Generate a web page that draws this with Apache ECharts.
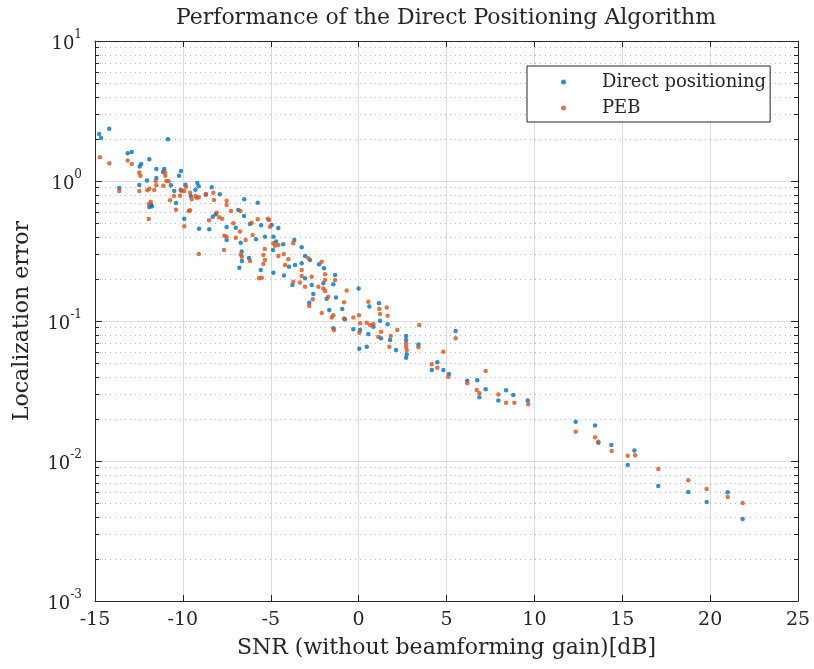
<!DOCTYPE html>
<html>
<head>
<meta charset="utf-8">
<title>Performance of the Direct Positioning Algorithm</title>
<script src="https://cdn.jsdelivr.net/npm/echarts@6/dist/echarts.min.js"></script>
<style>
  html, body { margin: 0; padding: 0; background: #ffffff; }
  #chart { width: 814px; height: 669px; }
</style>
</head>
<body>
<div id="chart"></div>
<script>
// Axis ticks
const xTicks = [-15, -10, -5, 0, 5, 10, 15, 20, 25];
const yDecades = [1e-3, 1e-2, 1e-1, 1, 10];

// Localization error vs SNR, [SNR dB, error]
const directPositioning = [
  [-14.76, 2.17], [-14.66, 2.03], [-14.19, 2.36], [-13.14, 1.58], [-12.91, 1.61], [-10.85, 1.99],
  [-12.38, 1.32], [-12.46, 1.27], [-11.91, 1.43], [-13.62, 0.891], [-12.48, 0.936], [-12.04, 1.01],
  [-11.51, 1.22], [-11.06, 1.22], [-11.13, 1.16], [-11.51, 1.05], [-10.11, 1.18], [-10.22, 1.09],
  [-10.68, 0.932], [-10.49, 0.849], [-10.12, 0.862], [-9.86, 0.941], [-9.18, 0.968], [-9.10, 0.917],
  [-9.29, 0.867], [-8.70, 0.798], [-11.91, 0.652], [-11.81, 0.677], [-11.76, 0.660], [-10.39, 0.696],
  [-9.92, 0.538], [-9.08, 0.456], [-9.55, 0.781], [-8.50, 0.452],
  [-8.36, 0.902], [-7.90, 0.804], [-6.51, 0.740], [-5.74, 0.700], [-8.30, 0.556], [-8.13, 0.578],
  [-7.51, 0.469], [-6.99, 0.464], [-6.85, 0.621], [-6.52, 0.562], [-6.18, 0.493], [-5.55, 0.483],
  [-7.51, 0.379], [-6.71, 0.362], [-6.65, 0.313], [-6.64, 0.268], [-6.79, 0.240], [-6.24, 0.282],
  [-5.84, 0.383], [-5.33, 0.400], [-5.57, 0.231],
  [-4.95, 0.485], [-4.57, 0.462], [-4.85, 0.400], [-4.70, 0.369], [-4.29, 0.353], [-3.66, 0.379],
  [-4.87, 0.321], [-3.24, 0.336], [-3.05, 0.291], [-2.77, 0.273], [-3.96, 0.244], [-3.62, 0.251],
  [-4.85, 0.221], [-4.25, 0.211], [-3.05, 0.202], [-2.25, 0.254], [-3.77, 0.181], [-2.67, 0.181],
  [-2.01, 0.186], [-3.24, 0.258], [-2.58, 0.156], [-2.81, 0.135],
  [-1.97, 0.238], [-1.34, 0.213], [-1.44, 0.183], [-1.82, 0.144], [-1.29, 0.147], [-1.67, 0.120],
  [-0.93, 0.122], [-0.78, 0.103], [0.00, 0.171], [0.61, 0.127], [1.16, 0.134], [-0.30, 0.0873],
  [0.08, 0.0862], [0.55, 0.0807], [0.84, 0.0911], [1.22, 0.1005], [1.65, 0.0947], [1.27, 0.0752],
  [1.79, 0.0732], [2.13, 0.0621], [0.04, 0.0634], [0.46, 0.0655], [-1.44, 0.0887],
  [2.70, 0.0781], [2.70, 0.0732], [2.74, 0.0578], [2.70, 0.0547], [3.40, 0.0679], [5.52, 0.0849],
  [4.48, 0.0507], [4.16, 0.0447], [4.82, 0.0447], [5.14, 0.0418], [6.18, 0.0375], [6.75, 0.0377],
  [7.23, 0.0325], [6.87, 0.0285], [7.95, 0.0270], [8.39, 0.0320], [8.80, 0.0296], [9.62, 0.0271],
  [12.35, 0.0191], [13.45, 0.0179], [13.64, 0.0135], [14.38, 0.0130], [15.69, 0.0119], [15.31, 0.00936],
  [17.05, 0.00663], [18.76, 0.00601], [19.80, 0.00509], [21.00, 0.00597], [21.85, 0.00385]
];

const peb = [
  [-14.72, 1.48], [-14.19, 1.34], [-13.14, 1.40], [-12.91, 1.32], [-12.48, 1.15], [-12.42, 1.09],
  [-13.62, 0.849], [-12.48, 0.849], [-12.02, 0.858], [-11.91, 0.881], [-11.55, 1.00], [-11.51, 0.932],
  [-11.63, 0.862], [-11.02, 1.15], [-11.00, 1.09], [-11.11, 0.925], [-10.94, 1.00], [-10.81, 0.995],
  [-11.83, 0.711], [-11.93, 0.685], [-11.94, 0.535], [-10.73, 0.728], [-10.50, 0.781], [-10.16, 0.785],
  [-10.07, 0.849], [-9.82, 0.911], [-9.92, 0.849], [-9.50, 0.740], [-9.59, 0.618], [-9.67, 0.610],
  [-10.39, 0.624], [-9.92, 0.475], [-9.59, 0.825], [-9.29, 0.781], [-9.21, 0.760], [-9.10, 0.765],
  [-8.68, 0.808], [-8.51, 0.524], [-9.10, 0.301],
  [-8.27, 0.825], [-8.23, 0.732], [-8.08, 0.594], [-7.94, 0.551], [-7.76, 0.538], [-7.64, 0.407],
  [-7.51, 0.400], [-7.66, 0.321], [-7.13, 0.499], [-6.99, 0.394], [-6.75, 0.435], [-6.43, 0.379],
  [-6.03, 0.411], [-5.74, 0.532], [-5.17, 0.538], [-6.71, 0.299], [-6.64, 0.288], [-6.18, 0.268],
  [-5.34, 0.327], [-5.42, 0.296], [-5.33, 0.273], [-5.42, 0.255], [-5.67, 0.202], [-5.51, 0.204],
  [-7.51, 0.723], [-7.51, 0.674], [-7.26, 0.611], [-6.73, 0.611], [-6.08, 0.504], [-5.10, 0.527],
  [-5.04, 0.472], [-4.85, 0.359], [-4.76, 0.345], [-4.57, 0.349], [-3.72, 0.359], [-4.57, 0.291],
  [-4.26, 0.301], [-4.00, 0.276], [-2.86, 0.281], [-4.19, 0.251], [-3.24, 0.231], [-3.24, 0.210],
  [-2.67, 0.207], [-3.72, 0.191], [-3.34, 0.188], [-3.05, 0.176], [-2.29, 0.176], [-2.10, 0.265],
  [-2.61, 0.143], [-2.81, 0.128],
  [-1.91, 0.216], [-1.91, 0.196], [-1.34, 0.196], [-2.01, 0.171], [-1.91, 0.164], [-1.73, 0.149],
  [-0.83, 0.136], [-0.68, 0.165], [-1.44, 0.110], [-1.53, 0.106], [-2.10, 0.114], [-0.83, 0.104],
  [-0.30, 0.106], [0.02, 0.110], [0.55, 0.137], [1.18, 0.122], [1.22, 0.112], [1.60, 0.125],
  [1.65, 0.109], [0.08, 0.0963], [0.46, 0.0973], [0.65, 0.0936], [0.84, 0.0952], [-1.40, 0.0862],
  [0.04, 0.0825], [1.27, 0.0838], [1.12, 0.0773], [1.82, 0.0781], [2.20, 0.0862], [1.75, 0.0655],
  [2.70, 0.0693], [2.70, 0.0655], [2.74, 0.0621], [3.45, 0.0936], [3.40, 0.0649], [5.52, 0.0752],
  [4.82, 0.0604], [4.16, 0.0491], [4.48, 0.0464], [5.10, 0.0400], [6.18, 0.0359], [7.23, 0.0440],
  [6.72, 0.0321], [6.87, 0.0305], [7.95, 0.0299], [8.39, 0.0261], [8.86, 0.0261], [9.65, 0.0254],
  [12.35, 0.0162], [13.45, 0.0148], [13.64, 0.0137], [14.40, 0.0118], [15.31, 0.0109], [15.73, 0.0110],
  [17.05, 0.00877], [18.76, 0.00728], [19.80, 0.00631], [21.00, 0.00553], [21.85, 0.00501]
];

const FONT = '"DejaVu Serif", "Liberation Serif", serif';
const INK = '#262626';
const BLUE = '#0072BD';
const ORANGE = '#D95319';

// 2..9 x 10^k positions for the dotted minor grid of the log axis
const minorValues = [];
for (let k = Math.log10(yDecades[0]); k < Math.log10(yDecades[yDecades.length - 1]); k++) {
  for (let m = 2; m <= 9; m++) minorValues.push(m * Math.pow(10, k));
}

const xMin = xTicks[0];
const xMax = xTicks[xTicks.length - 1];
const xStep = xTicks[1] - xTicks[0];
const yMin = yDecades[0];
const yMax = yDecades[yDecades.length - 1];

function decadeLabel(v) {
  const e = Math.round(Math.log10(v));
  return '{b|10}{e|' + e + '}';
}

const labelRich = {
  b: { fontFamily: FONT, fontSize: 18, color: INK, lineHeight: 24, verticalAlign: 'bottom' },
  e: { fontFamily: FONT, fontSize: 12, color: INK, lineHeight: 12, verticalAlign: 'top' }
};

const chart = echarts.init(document.getElementById('chart'), null, { renderer: 'canvas' });

chart.setOption({
  animation: false,
  backgroundColor: '#ffffff',
  title: {
    text: 'Performance of the Direct Positioning Algorithm',
    left: 446,
    top: 7,
    padding: 0,
    textAlign: 'center',
    textStyle: { fontFamily: FONT, fontSize: 22, fontWeight: 'normal', color: INK }
  },
  legend: {
    data: ['Direct positioning', 'PEB'],
    orient: 'vertical',
    left: 527,
    top: 66,
    icon: 'circle',
    itemWidth: 5,
    itemHeight: 5,
    itemGap: 6,
    padding: [6, 4, 4, 34],
    backgroundColor: '#ffffff',
    borderColor: INK,
    borderWidth: 1,
    borderRadius: 0,
    textStyle: { fontFamily: FONT, fontSize: 18, color: INK, lineHeight: 20, padding: [0, 0, 0, 31] }
  },
  grid: { left: 95, right: 16, top: 41, bottom: 68, containLabel: false },
  xAxis: [
    {
      type: 'value', min: xMin, max: xMax, interval: xStep, position: 'bottom',
      axisLine: { show: true, onZero: false, lineStyle: { color: INK, width: 1 } },
      axisTick: { show: true, inside: true, length: 6, lineStyle: { color: INK } },
      axisLabel: { show: true, fontFamily: FONT, fontSize: 19, color: INK, margin: 10, showMinLabel: true, showMaxLabel: true },
      splitLine: { show: true, lineStyle: { color: '#dcdcdc', width: 1 } },
      name: 'SNR (without beamforming gain)[dB]',
      nameLocation: 'middle',
      nameGap: 36,
      nameTextStyle: { fontFamily: FONT, fontSize: 22, color: INK }
    },
    {
      type: 'value', min: xMin, max: xMax, interval: xStep, position: 'top',
      axisLine: { show: true, onZero: false, lineStyle: { color: INK, width: 1 } },
      axisTick: { show: true, inside: true, length: 6, lineStyle: { color: INK } },
      axisLabel: { show: false },
      splitLine: { show: false }
    }
  ],
  yAxis: [
    {
      type: 'log', logBase: 10, min: yMin, max: yMax, position: 'left',
      axisLine: { show: true, onZero: false, lineStyle: { color: INK, width: 1 } },
      axisTick: { show: true, inside: true, length: 7, lineStyle: { color: INK } },
      axisLabel: { show: true, margin: 13, formatter: decadeLabel, rich: labelRich, showMinLabel: true, showMaxLabel: true },
      splitLine: { show: true, lineStyle: { color: '#dcdcdc', width: 1 } },
      name: 'Localization error',
      nameLocation: 'middle',
      nameGap: 62,
      nameRotate: 90,
      nameTextStyle: { fontFamily: FONT, fontSize: 22, color: INK }
    },
    {
      type: 'log', logBase: 10, min: yMin, max: yMax, position: 'right',
      axisLine: { show: true, onZero: false, lineStyle: { color: INK, width: 1 } },
      axisTick: { show: true, inside: true, length: 7, lineStyle: { color: INK } },
      axisLabel: { show: false },
      splitLine: { show: false }
    }
  ],
  series: [
    {
      // dotted minor grid and minor ticks at 2..9 x 10^k
      type: 'custom',
      name: 'minor-grid',
      xAxisIndex: 0,
      yAxisIndex: 0,
      silent: true,
      z: 1,
      data: minorValues.map(v => [xMin, v]),
      renderItem: function (params, api) {
        const cs = params.coordSys;
        const p = api.coord([api.value(0), api.value(1)]);
        const y = Math.round(p[1]) + 0.5;
        return {
          type: 'group',
          children: [
            { type: 'line', shape: { x1: cs.x, y1: y, x2: cs.x + cs.width, y2: y },
              style: { stroke: '#b8b8b8', lineWidth: 1, lineDash: [1, 4] } },
            { type: 'line', shape: { x1: cs.x, y1: y, x2: cs.x + 4, y2: y },
              style: { stroke: INK, lineWidth: 1 } },
            { type: 'line', shape: { x1: cs.x + cs.width - 4, y1: y, x2: cs.x + cs.width, y2: y },
              style: { stroke: INK, lineWidth: 1 } }
          ]
        };
      }
    },
    {
      type: 'scatter',
      name: 'Direct positioning',
      xAxisIndex: 0,
      yAxisIndex: 0,
      symbol: 'circle',
      symbolSize: 4.5,
      z: 3,
      itemStyle: { color: BLUE },
      data: directPositioning
    },
    {
      type: 'scatter',
      name: 'PEB',
      xAxisIndex: 0,
      yAxisIndex: 0,
      symbol: 'circle',
      symbolSize: 4.5,
      z: 4,
      itemStyle: { color: ORANGE },
      data: peb
    }
  ]
});
</script>
</body>
</html>
